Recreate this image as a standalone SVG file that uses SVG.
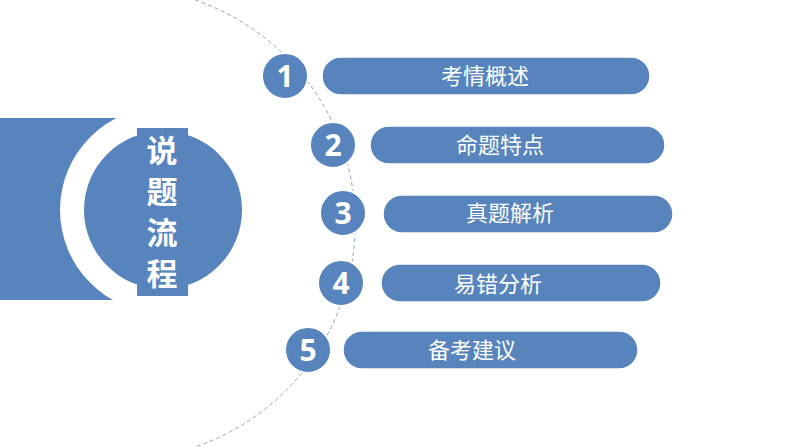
<svg xmlns="http://www.w3.org/2000/svg" width="794" height="447" viewBox="0 0 794 447">
<style>
.b{fill:#5784bc}
.pill{fill:#5784bc;stroke:#fff;stroke-width:1.5}
.num{fill:#5784bc;stroke:#fff;stroke-width:2}
.nt{font-family:"Open Sans","Liberation Sans",sans-serif;font-weight:bold;font-size:30px;fill:#fff;text-anchor:middle}
.lt{font-family:"Noto Sans CJK SC",sans-serif;font-size:22px;fill:#fff;text-anchor:middle}
</style>
<rect width="794" height="447" fill="#fff"/>
<g id="connectors">
<path d="M195,0 A236,236 0 0 1 195,447" fill="none" stroke="#8fa3bf" stroke-width="1" stroke-dasharray="4,3"/>
</g>
<g id="title">
<rect class="b" x="0" y="118" width="130" height="182"/>
<circle cx="163" cy="210" r="103" fill="#fff"/>
<circle class="b" cx="163" cy="210" r="79"/>
<rect class="b" x="137" y="128" width="51" height="168"/>
<text font-family="Noto Sans CJK SC,sans-serif" font-weight="bold" font-size="31" fill="#fff" text-anchor="middle"><tspan x="162" y="162">说</tspan><tspan x="162" y="203">题</tspan><tspan x="162" y="244">流</tspan><tspan x="162" y="285">程</tspan></text>
</g>
<g id="item1"><rect class="pill" x="322" y="57" width="328" height="38" rx="19"/><circle class="num" cx="285" cy="76" r="23"/><text class="nt" x="285" y="87">1</text><text class="lt" x="485" y="84">考情概述</text></g>
<g id="item2"><rect class="pill" x="370" y="126" width="295" height="38" rx="19"/><circle class="num" cx="333" cy="145" r="23"/><text class="nt" x="333" y="156">2</text><text class="lt" x="500" y="153">命题特点</text></g>
<g id="item3"><rect class="pill" x="383" y="195" width="290" height="38" rx="19"/><circle class="num" cx="343" cy="213" r="23"/><text class="nt" x="343" y="224">3</text><text class="lt" x="510" y="221">真题解析</text></g>
<g id="item4"><rect class="pill" x="381" y="264" width="280" height="38" rx="19"/><circle class="num" cx="341" cy="283" r="23"/><text class="nt" x="341" y="294">4</text><text class="lt" x="498" y="292">易错分析</text></g>
<g id="item5"><rect class="pill" x="343" y="331" width="295" height="38" rx="19"/><circle class="num" cx="308" cy="350" r="23"/><text class="nt" x="308" y="361">5</text><text class="lt" x="472" y="358">备考建议</text></g>
</svg>
